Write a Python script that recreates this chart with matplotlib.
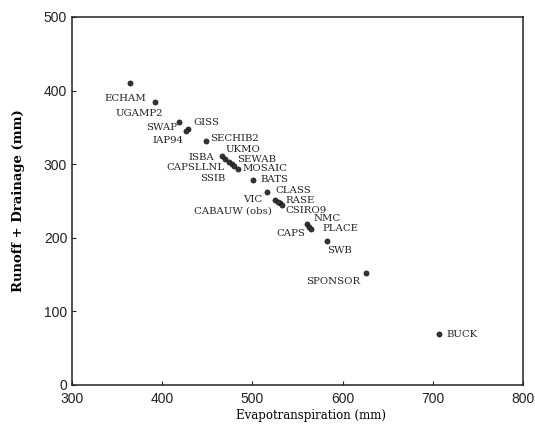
import matplotlib.pyplot as plt

# Annual totals per land-surface scheme (mm)
names = ['ECHAM', 'UGAMP2', 'SWAP', 'GISS', 'IAP94', 'SECHIB2',
         'UKMO', 'ISBA', 'CAPSLLNL', 'SEWAB', 'SSIB', 'MOSAIC',
         'BATS', 'CLASS', 'VIC', 'RASE', 'CABAUW (obs)', 'CSIRO9',
         'NMC', 'CAPS', 'PLACE', 'SWB', 'SPONSOR', 'BUCK']
evap = [364, 392, 419, 429, 426, 448,
        470, 466, 474, 477, 480, 484,
        501, 516, 525, 531, 528, 533,
        561, 563, 565, 583, 626, 707]
runoff = [410, 384, 357, 348, 345, 331,
          307, 311, 303, 300, 297, 294,
          278, 262, 251, 247, 249, 245,
          219, 215, 212, 196, 152, 69]

# label placement: (dx, dy) in pixels, horizontal alignment
label_pos = {
    'ECHAM': (-4, -15, 'center'), 'UGAMP2': (-16, -11, 'center'),
    'SWAP': (-2, -5, 'right'), 'GISS': (5, 6, 'left'),
    'IAP94': (-2, -9, 'right'), 'SECHIB2': (5, 3, 'left'),
    'UKMO': (0, 10, 'left'), 'ISBA': (-8, -1, 'right'),
    'CAPSLLNL': (-4, -6, 'right'), 'SEWAB': (5, 5, 'left'),
    'SSIB': (-9, -12, 'right'), 'MOSAIC': (5, 0, 'left'),
    'BATS': (7, 1, 'left'), 'CLASS': (9, 2, 'left'),
    'VIC': (-13, 1, 'right'), 'RASE': (5, 3, 'left'),
    'CABAUW (obs)': (-6, -9, 'right'), 'CSIRO9': (3, -6, 'left'),
    'NMC': (6, 5, 'left'), 'CAPS': (-4, -7, 'right'),
    'PLACE': (11, 0, 'left'), 'SWB': (0, -10, 'left'),
    'SPONSOR': (-6, -8, 'right'), 'BUCK': (7, 0, 'left'),
}

fig = plt.figure(figsize=(5.35, 4.29), dpi=100)
ax = fig.add_axes([0.1346, 0.1026, 0.8430, 0.8578])

ax.scatter(evap, runoff, s=14, color='#333333', edgecolors='#111111',
           linewidths=0.4, zorder=3)

for n, x, y in zip(names, evap, runoff):
    dx, dy, ha = label_pos[n]
    ax.annotate(n, (x, y), xytext=(dx, dy), textcoords='offset pixels',
                ha=ha, va='center', fontsize=7.3, family='DejaVu Serif',
                color='#222222')

ax.set_xlim(300, 800)
ax.set_ylim(0, 500)
ax.set_xticks(range(300, 801, 100))
ax.set_yticks(range(0, 501, 100))
ax.tick_params(direction='in', length=3, width=0.8, labelsize=10,
               colors='#222222')
ax.tick_params(axis='x', pad=5)
for lab in ax.get_xticklabels() + ax.get_yticklabels():
    lab.set_family('Liberation Sans')
for sp in ax.spines.values():
    sp.set_linewidth(1.1)
    sp.set_color('#222222')

ax.set_xlabel('Evapotranspiration (mm)', family='DejaVu Serif', fontsize=8.5)
ax.set_ylabel('Runoff + Drainage (mm)', family='DejaVu Serif', fontsize=9.5,
              fontweight='bold')
ax.xaxis.set_label_coords(0.53, -0.065)
ax.yaxis.set_label_coords(-0.105, 0.5)

fig.savefig('out.png', dpi=100)
